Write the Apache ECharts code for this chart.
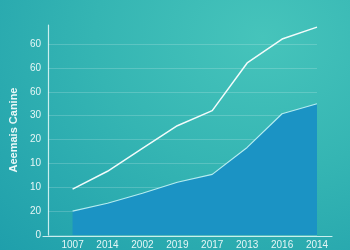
<!DOCTYPE html>
<html>
<head>
<meta charset="utf-8">
<script src="https://cdn.jsdelivr.net/npm/echarts@6/dist/echarts.min.js"></script>
<style>
html,body{margin:0;padding:0;}
body{width:350px;height:250px;overflow:hidden;
background:radial-gradient(ellipse at 75% 15%, #46c4bb 0%, #35b5b3 45%, #1f9fab 100%);}
#c{width:350px;height:250px;}
</style>
</head>
<body>
<div id="c"></div>
<script>
const categories = ['1007','2014','2002','2019','2017','2013','2016','2014'];
const upperValues = [19.2, 26.7, 36.3, 45.8, 52.1, 72.1, 82.1, 87.1];
const lowerValues = [10.0, 13.3, 17.5, 22.1, 25.4, 36.7, 50.8, 55.0];
const yTickLabels = ['0','20','10','10','20','30','60','60','60'];
const yAxisTitle = 'Aeemais Canine';

const font = 'Liberation Sans, Arial, sans-serif';
const chart = echarts.init(document.getElementById('c'), null, {renderer:'canvas'});
const idx = categories.map((_, i) => i);
const mid = categories.slice(1).map((_, i) => i + 0.5);

chart.setOption({
  animation:false,
  backgroundColor:'transparent',
  grid:[
    {left:43, right:33, top:25, bottom:14},
    {left:43, right:18, top:25, bottom:14}
  ],
  xAxis:[
    {type:'value', gridIndex:0, min:-0.703, max:7,
     axisLine:{show:false, onZero:false},
     axisTick:{show:true, inside:true, length:3, customValues:mid,
       lineStyle:{color:'rgba(230,250,250,0.85)', width:1}},
     axisLabel:{customValues:idx, color:'#e6f6f6', fontFamily:font, fontSize:10, margin:5,
       formatter:v => categories[Math.round(v)]},
     splitLine:{show:false}},
    {type:'value', gridIndex:1, min:0, max:1,
     axisLine:{show:true, onZero:false, lineStyle:{color:'rgba(230,250,250,0.85)', width:1.2}},
     axisTick:{show:false}, axisLabel:{show:false}, splitLine:{show:false}}
  ],
  yAxis:[
    {type:'value', gridIndex:0, min:0, max:88, interval:10,
     name:yAxisTitle, nameLocation:'middle', nameGap:28, nameRotate:90,
     nameTextStyle:{color:'#eaf8f8', fontFamily:font, fontSize:11, fontWeight:'bold'},
     axisLine:{show:true, onZero:false, lineStyle:{color:'rgba(230,250,250,0.85)', width:1.2}},
     axisTick:{show:false},
     axisLabel:{color:'#e6f6f6', fontFamily:font, fontSize:10, margin:7, showMaxLabel:false,
       formatter:v => (Math.abs(v % 10) < 1e-6 ? (yTickLabels[Math.round(v/10)] || '') : '')},
     splitLine:{show:true, showMaxLine:false, lineStyle:{color:'rgba(255,255,255,0.18)', width:1}}},
    {type:'value', gridIndex:1, min:0, max:1, show:false}
  ],
  series:[
    {type:'line', xAxisIndex:0, yAxisIndex:0, symbol:'none',
     data:lowerValues.map((v,i)=>[i,v]),
     lineStyle:{color:'#b5ecf0', width:1.2},
     areaStyle:{color:'#1b93c4', opacity:1}, z:2},
    {type:'line', xAxisIndex:0, yAxisIndex:0, symbol:'none',
     data:upperValues.map((v,i)=>[i,v]),
     lineStyle:{color:'#f2fbfb', width:1.5}, z:3}
  ]
});
</script>
</body>
</html>
